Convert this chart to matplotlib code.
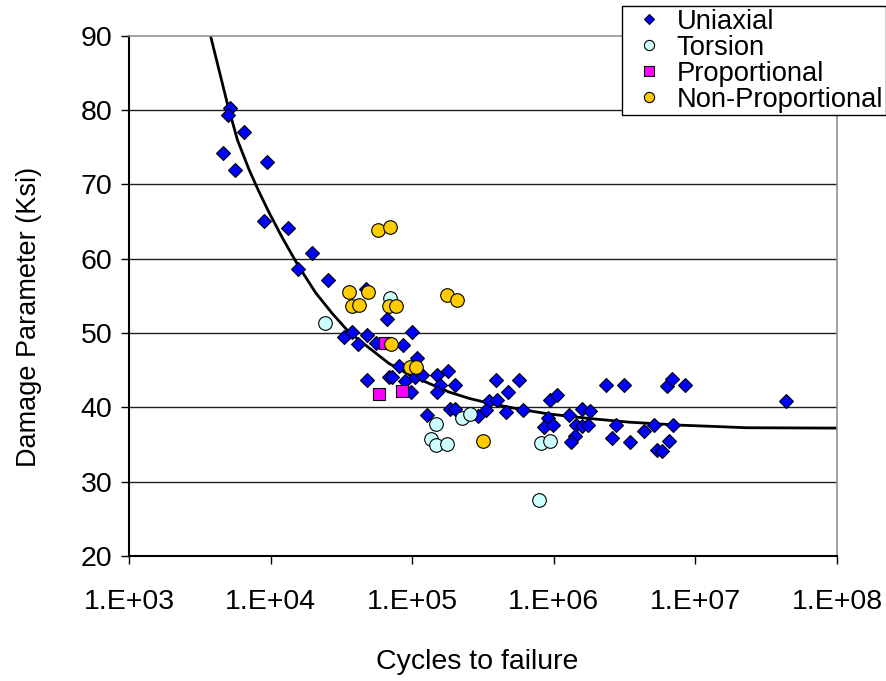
import matplotlib
matplotlib.use("Agg")
import matplotlib.pyplot as plt

plt.rcParams['font.family'] = ['Liberation Sans', 'DejaVu Sans']

# --- data (cycles, damage parameter in ksi) ---
uni_n = [5.16e3, 5.02e3, 6.52e3, 4.63e3, 5.61e3, 9.38e3, 8.97e3, 1.33e4, 1.95e4, 1.55e4,
         2.54e4, 4.69e4, 6.61e4, 3.30e4, 3.78e4, 4.14e4, 4.82e4, 5.52e4, 8.61e4, 1.00e5,
         1.09e5, 8.07e4, 4.82e4, 6.85e4, 7.23e4, 8.89e4, 9.75e4, 1.05e5, 1.17e5, 1.49e5,
         1.79e5, 1.57e5, 2.00e5, 1.49e5, 1.28e5, 1.86e5, 2.02e5, 3.93e5, 5.68e5, 4.78e5,
         3.48e5, 3.98e5, 3.33e5, 2.90e5, 4.57e5, 6.10e5, 9.40e5, 1.06e6, 9.14e5, 8.53e5,
         9.86e5, 1.29e6, 1.59e6, 1.79e6, 1.43e6, 1.58e6, 1.75e6, 1.41e6, 1.32e6, 2.32e6,
         3.13e6, 2.74e6, 2.59e6, 3.43e6, 4.34e6, 5.11e6, 7.00e6, 6.52e6, 5.37e6, 5.83e6,
         6.27e6, 6.79e6, 8.45e6, 4.34e7]
uni_s = [80.3, 79.3, 77.0, 74.2, 71.9, 73.0, 65.0, 64.1, 60.8, 58.6,
         57.1, 55.9, 51.9, 49.5, 50.1, 48.5, 49.7, 48.6, 48.4, 50.1,
         46.6, 45.6, 43.7, 44.1, 44.1, 43.6, 42.05, 44.05, 44.4, 44.4,
         44.85, 43.0, 43.0, 42.05, 38.9, 39.8, 39.8, 43.7, 43.7, 42.05,
         40.9, 41.0, 39.7, 38.8, 39.4, 39.7, 41.0, 41.6, 38.5, 37.4,
         37.6, 38.9, 39.8, 39.45, 37.6, 37.5, 37.6, 36.2, 35.3, 43.0,
         43.0, 37.6, 35.9, 35.3, 36.8, 37.6, 37.6, 35.4, 34.2, 34.15,
         42.85, 43.8, 43.0, 40.85]

tor_n = [6.97e4, 2.41e4, 1.47e5, 1.36e5, 1.47e5, 1.77e5, 2.26e5, 2.55e5, 8.17e5, 9.33e5, 7.91e5]
tor_s = [54.7, 51.3, 37.8, 35.8, 34.9, 35.1, 38.6, 39.1, 35.2, 35.4, 27.5]

prop_n = [6.43e4, 5.83e4, 8.51e4]
prop_s = [48.7, 41.8, 42.2]

nonp_n = [5.73e4, 6.97e4, 3.58e4, 4.88e4, 3.74e4, 4.21e4, 6.85e4, 7.73e4, 1.77e5, 2.08e5,
          7.05e4, 9.64e4, 1.07e5, 3.18e5]
nonp_s = [63.9, 64.2, 55.5, 55.5, 53.6, 53.8, 53.6, 53.6, 55.1, 54.4,
          48.5, 45.4, 45.4, 35.4]

# trend line as traced on the reference
fit_n = [3.76e3, 4.33e3, 4.94e3, 5.82e3, 7.03e3, 8.18e3, 9.75e3, 1.21e4, 1.55e4, 2.08e4,
         2.73e4, 3.58e4, 4.95e4, 6.85e4, 9.48e4, 1.32e5, 1.82e5, 2.52e5, 3.48e5, 5.68e5,
         9.25e5, 1.77e6, 3.40e6, 7.66e6, 1.47e7, 2.26e7, 1.0e8]
fit_s = [90.0, 85.3, 80.9, 76.0, 72.0, 69.2, 66.2, 62.8, 59.2, 55.4,
         52.6, 50.1, 48.0, 45.9, 44.4, 43.2, 42.05, 41.2, 40.55, 39.75,
         39.1, 38.5, 38.0, 37.6, 37.4, 37.25, 37.2]

x_ticks = [1e3, 1e4, 1e5, 1e6, 1e7, 1e8]
x_labels = ['1.E+03', '1.E+04', '1.E+05', '1.E+06', '1.E+07', '1.E+08']
y_ticks = [20, 30, 40, 50, 60, 70, 80, 90]

FS = 20.5

fig = plt.figure(figsize=(8.87, 6.81), dpi=100)
ax = fig.add_axes([129 / 887, 1 - 556 / 681, (837 - 129) / 887, (556 - 35.5) / 681])

ax.set_xscale('log')
ax.set_xlim(1e3, 1e8)
ax.set_ylim(20, 90)

# horizontal gridlines
for v in y_ticks[1:-1]:
    ax.axhline(v, color='#202020', lw=1.0, zorder=0)

ax.plot(fit_n, fit_s, color='black', lw=2.0, zorder=1)

h1, = ax.plot(uni_n, uni_s, 'D', ms=7.3, mfc='#0000FF', mec='black', mew=0.8, ls='none', zorder=2)
h2, = ax.plot(tor_n, tor_s, 'o', ms=9.8, mfc='#CCFFFF', mec='black', mew=0.8, ls='none', zorder=3)
h3, = ax.plot(prop_n, prop_s, 's', ms=8.8, mfc='#FF00FF', mec='black', mew=0.8, ls='none', zorder=4)
h4, = ax.plot(nonp_n, nonp_s, 'o', ms=9.8, mfc='#FFCC00', mec='black', mew=0.8, ls='none', zorder=5)

ax.set_xticks(x_ticks)
ax.set_xticklabels(x_labels)
ax.set_yticks(y_ticks)
ax.minorticks_off()
ax.tick_params(axis='both', direction='out', length=6, width=1, labelsize=FS, colors='black')
ax.tick_params(axis='x', pad=18)
ax.tick_params(axis='y', pad=6)

for side in ['left', 'bottom']:
    ax.spines[side].set_color('black')
    ax.spines[side].set_linewidth(1.5)
for side in ['top', 'right']:
    ax.spines[side].set_color('#909090')
    ax.spines[side].set_linewidth(1.2)

ax.set_xlabel('Cycles to failure', fontsize=FS)
ax.xaxis.set_label_coords(0.4915, -0.1787)
ax.set_ylabel('Damage Parameter (Ksi)', fontsize=19.5)
ax.yaxis.set_label_coords(-0.1229, 0.459)

leg = fig.legend([h1, h2, h3, h4], ['Uniaxial', 'Torsion', 'Proportional', 'Non-Proportional'],
                 loc='upper right', bbox_to_anchor=(886 / 887, 1 - 6 / 681),
                 fontsize=19.7, frameon=True, fancybox=False, framealpha=1,
                 borderpad=0.1, labelspacing=0.0, handlelength=1.8,
                 handletextpad=0.1, borderaxespad=0, markerscale=0.75)
leg.get_frame().set_edgecolor('black')
leg.get_frame().set_linewidth(1.0)

fig.savefig('out.png', dpi=100, facecolor='white')
